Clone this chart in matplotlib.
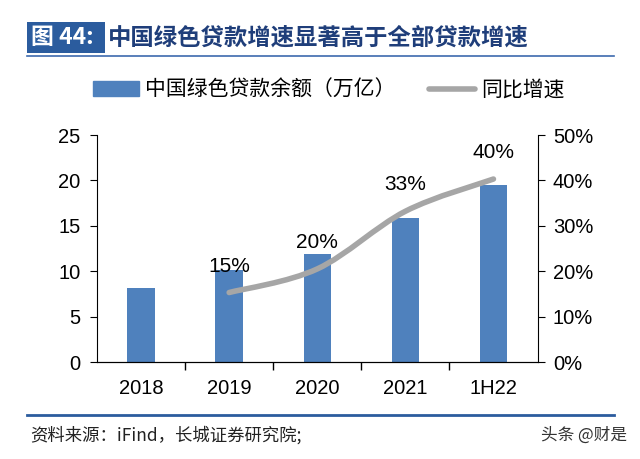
import numpy as np
import matplotlib.pyplot as plt
from matplotlib.path import Path
from matplotlib.patches import PathPatch, Rectangle
from matplotlib.lines import Line2D

plt.rcParams['font.family'] = ['Liberation Sans', 'Noto Sans CJK SC', 'DejaVu Sans']

# --- data ---
years = ['2018', '2019', '2020', '2021', '1H22']
balance = [8.2, 10.1, 11.9, 15.9, 19.5]          # 万亿
growth_years = [1, 2, 3, 4]                      # index into years (no 2018 growth)
growth = [15.3, 20.5, 33.2, 40.3]                # %
growth_labels = ['15%', '20%', '33%', '40%']

bar_color = '#4F81BD'
line_color = '#A6A6A6'
navy = '#2B5C9E'

fig = plt.figure(figsize=(6.4, 4.59), dpi=100)
ax = fig.add_axes([97/640, 1-362/459, (537.5-97)/640, (362-135)/459])
ax2 = ax.twinx()

x = np.arange(len(years))
ax.bar(x, balance, width=0.31, color=bar_color, zorder=2)
ax.set_xlim(-0.5, len(years)-0.5)
ax.set_ylim(0, 25)
ax.set_yticks(range(0, 26, 5))
ax.set_xticks(x)
ax.set_xticklabels(years)
ax.set_xticks(np.arange(0.5, len(years)-0.5, 1), minor=True)
ax.tick_params(axis='x', which='major', length=0, pad=12, labelsize=14.5)
ax.tick_params(axis='x', which='minor', length=6, direction='out', width=1)
ax.tick_params(axis='y', length=5, direction='out', labelsize=14.5, pad=7)
ax.spines['top'].set_visible(False)
ax.spines['right'].set_visible(False)

# smooth growth line (Catmull-Rom style bezier through the points)
gx = np.array(growth_years, dtype=float)
gy = np.array(growth, dtype=float)
pts = np.column_stack([gx, gy])
ext = np.vstack([pts[0], pts, pts[-1]])
verts = [tuple(pts[0])]
codes = [Path.MOVETO]
for i in range(len(pts) - 1):
    p0, p1, p2, p3 = ext[i], ext[i+1], ext[i+2], ext[i+3]
    c1 = p1 + (p2 - p0) / 6
    c2 = p2 - (p3 - p1) / 6
    verts += [tuple(c1), tuple(c2), tuple(p2)]
    codes += [Path.CURVE4] * 3
ax2.add_patch(PathPatch(Path(verts, codes), facecolor='none', edgecolor=line_color,
                        lw=4, capstyle='round', zorder=3))
for xi, yi, lab in zip(gx, gy, growth_labels):
    ax2.annotate(lab, (xi, yi), xytext=(0, 19), textcoords='offset points',
                 ha='center', va='center', fontsize=15)

ax2.set_ylim(0, 50)
ax2.set_yticks(range(0, 51, 10))
ax2.set_yticklabels([f'{v}%' for v in range(0, 51, 10)])
ax2.tick_params(axis='y', length=5, direction='out', labelsize=14.5, pad=6)
ax2.spines['top'].set_visible(False)
ax2.spines['left'].set_visible(False)

# legend
handles = [Rectangle((0, 0), 1, 1, color=bar_color),
           Line2D([0], [0], color=line_color, lw=4, solid_capstyle='round')]
fig.legend(handles, ['中国绿色贷款余额（万亿）', '同比增速'], loc='center',
           bbox_to_anchor=(0.514, 1-90/459), ncol=2, frameon=False,
           handlelength=2.2, handletextpad=0.3, columnspacing=1.6,
           prop={'family': ['Noto Sans CJK SC'], 'size': 15})

# title block
fig.patches.append(Rectangle((27/640, 1-52.7/459), 78/640, 30.4/459, transform=fig.transFigure,
                             facecolor=navy, edgecolor='none'))
fig.text(31/640, 1-37.5/459, '图 44:', color='white', fontsize=16.5, fontweight='bold',
         va='center', ha='left', family=['Noto Sans CJK SC', 'DejaVu Sans'])
fig.text(108/640, 1-37.5/459, '中国绿色贷款增速显著高于全部贷款增速', color='#1F3E7A',
         fontsize=16.8, fontweight='bold', va='center', ha='left',
         family=['Noto Sans CJK SC'])
fig.add_artist(Line2D([27/640, 614/640], [1-56/459, 1-56/459], color='#3D6AAE', lw=1.2))

# footer
fig.add_artist(Line2D([27/640, 614/640], [1-415/459, 1-415/459], color=navy, lw=2))
fig.text(30/640, 1-435/459, '资料来源：iFind，长城证券研究院;', fontsize=12.5, style='italic',
         va='center', ha='left', color='#222222', family=['Noto Sans CJK SC', 'DejaVu Sans'])
fig.text(627/640, 1-435/459, '头条 @财是', fontsize=12, va='center', ha='right',
         color='#333333', family=['Noto Sans CJK SC', 'DejaVu Sans'])

fig.savefig('out.png', dpi=100)
